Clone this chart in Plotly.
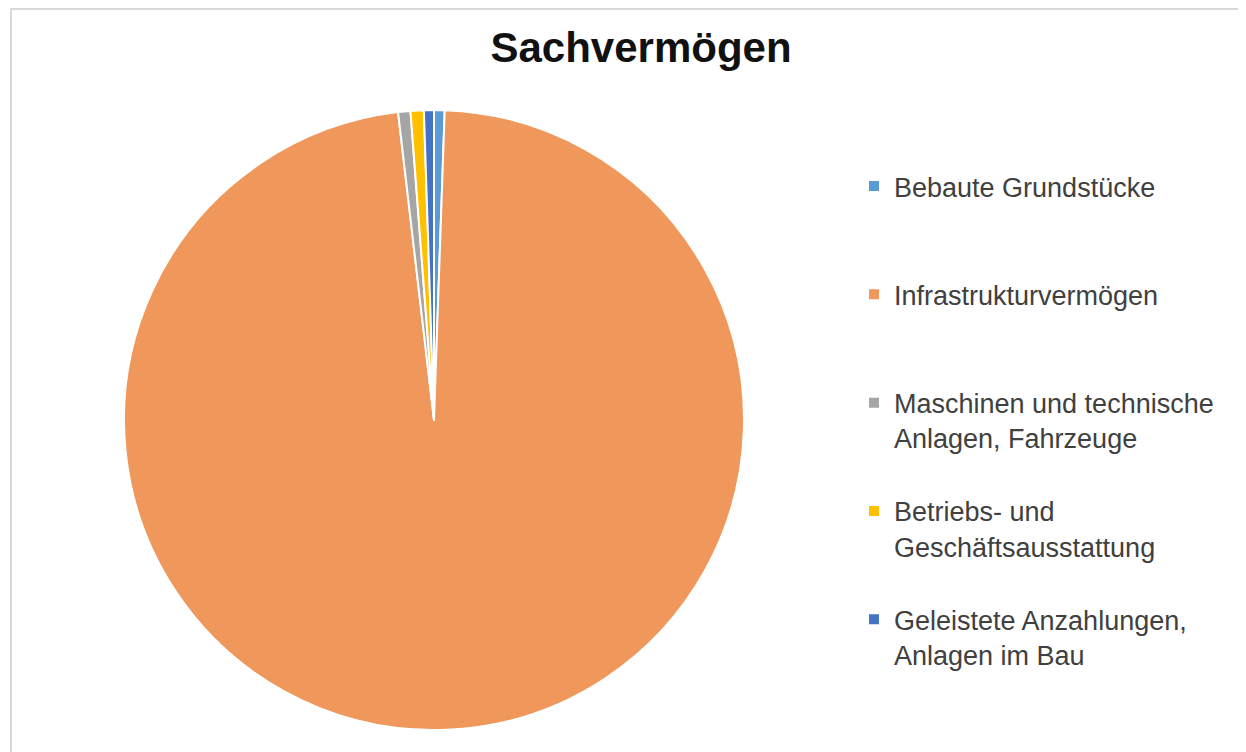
import plotly.graph_objects as go

categories = [
    "Bebaute Grundstücke",
    "Infrastrukturvermögen",
    "Maschinen und technische<br>Anlagen, Fahrzeuge",
    "Betriebs- und<br>Geschäftsausstattung",
    "Geleistete Anzahlungen,<br>Anlagen im Bau",
]
# share of total (%)
values = [0.55, 97.6, 0.64, 0.69, 0.52]
colors = ["#5B9BD5", "#F0975B", "#A5A5A5", "#FFC000", "#4472C4"]

# pad every legend entry to three lines so entries are evenly spaced like the original
legend_labels = []
for c in categories:
    n = c.count("<br>") + 1
    legend_labels.append(c + "<br> " * (3 - n))

W, H = 1246, 752
OFF = 8  # page body margin of the browser
cx, cy, r = 434 - OFF, 420 - OFF, 310

fig = go.Figure(
    go.Pie(
        labels=legend_labels,
        values=values,
        sort=False,
        direction="clockwise",
        rotation=0,
        textinfo="none",
        hoverinfo="label+percent",
        marker=dict(colors=colors, line=dict(color="white", width=2)),
        domain=dict(
            x=[(cx - r) / W, (cx + r) / W],
            y=[(H - cy - r) / H, (H - cy + r) / H],
        ),
    )
)

fig.update_layout(
    width=W,
    height=H,
    margin=dict(l=0, r=0, t=0, b=0),
    paper_bgcolor="white",
    plot_bgcolor="white",
    title=dict(
        text="<b>Sachvermögen</b>",
        x=(641 - OFF) / W,
        xanchor="center",
        y=1 - 39 / H,
        yanchor="middle",
        font=dict(family="Liberation Sans, Arial, sans-serif", size=42, color="#111111"),
    ),
    legend=dict(
        x=(854 - OFF) / W,
        xanchor="left",
        y=1 - 154 / H,
        yanchor="top",
        valign="top",
        font=dict(family="Liberation Sans, Arial, sans-serif", size=27, color="#404040"),
        bgcolor="rgba(0,0,0,0)",
    ),
    shapes=[
        dict(
            type="rect",
            xref="paper",
            yref="paper",
            x0=(11 - OFF) / W,
            x1=1.02,
            y0=-0.02,
            y1=1 - 1 / H,
            line=dict(color="#D9D9D9", width=2),
            fillcolor="rgba(0,0,0,0)",
        )
    ],
)

fig.write_html("out.html")
